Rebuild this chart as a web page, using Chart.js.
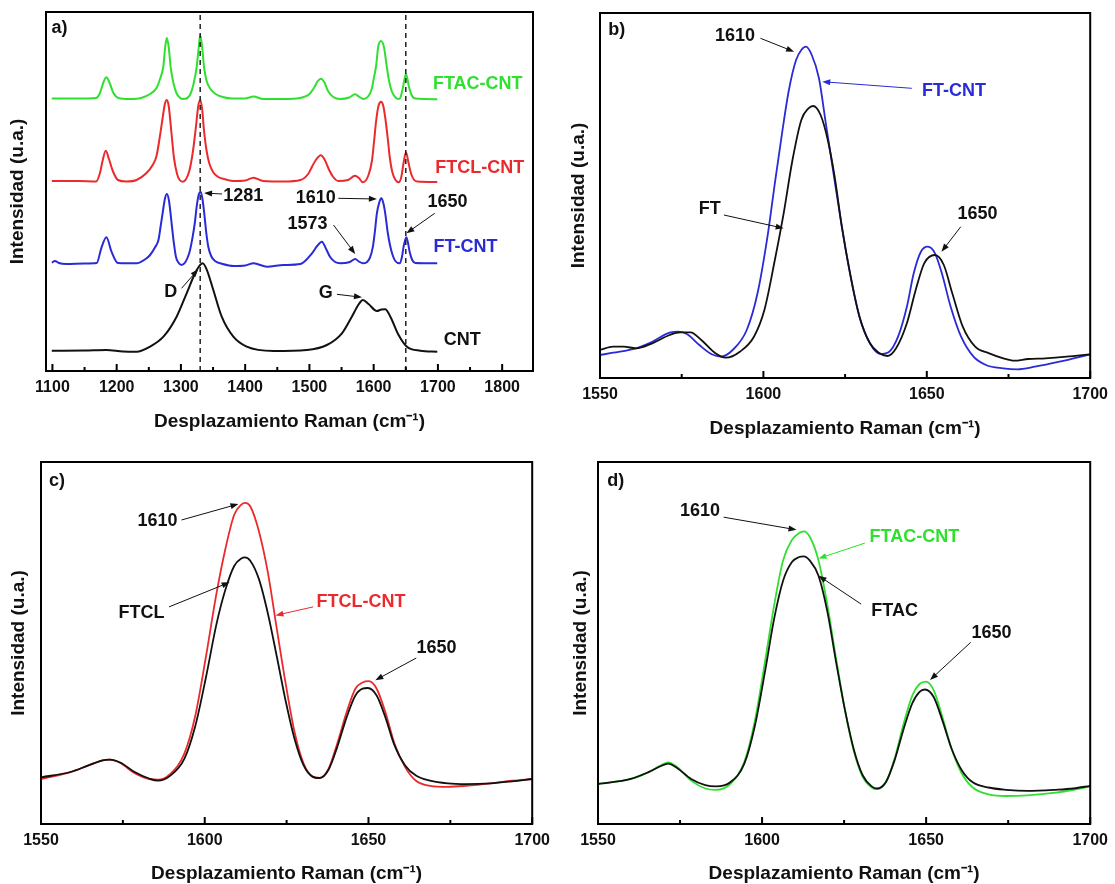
<!DOCTYPE html>
<html>
<head>
<meta charset="utf-8">
<script src="https://cdn.jsdelivr.net/npm/chart.js@4.4.1/dist/chart.umd.min.js"></script>
<style>
  body { margin: 0; background: #fff; width: 1115px; height: 884px; position: relative; overflow: hidden; }
  canvas { position: absolute; }
</style>
</head>
<body>
<canvas id="pa" width="557" height="440" style="left:0;top:0"></canvas>
<canvas id="pb" width="558" height="440" style="left:557px;top:0"></canvas>
<canvas id="pc" width="557" height="444" style="left:0;top:440px"></canvas>
<canvas id="pd" width="558" height="444" style="left:557px;top:440px"></canvas>
<script>
// ---- data (x = Raman shift cm-1, y = intensity a.u.) ----
const ticksWide = [1100, 1200, 1300, 1400, 1500, 1600, 1700, 1800];
const minorWide = [1150, 1250, 1350, 1450, 1550, 1650, 1750];
const ticksZoom = [1550, 1600, 1650, 1700];
const minorZoom = [1575, 1625, 1675];
const dashedAt = [1330, 1650];

// panel a (offset stack)
const aFtacCnt = [[1099,272.5],[1140,272.5],[1168,273],[1174,278],[1179,288],[1184,293.7],[1189,288],[1195,278],[1203,273],
  [1220,272],[1238,273],[1252,277],[1262,283],[1268,293],[1272.5,304],[1275.5,324],[1278,333],[1281,324],[1284,304],[1288,289],
  [1293,278],[1299,273],[1304,272],[1314,276],[1320,288],[1324.5,304],[1327.8,324],[1330,336],[1333,324],[1336,304],[1340,290],
  [1346,282],[1354,277],[1365,274],[1380,272.5],[1400,272.5],[1413,274.5],[1428,272],[1460,272],[1485,273],[1500,277],[1508,284],
  [1513,290],[1518,292.3],[1523,289],[1529,280],[1537,274],[1548,272],[1562,273.5],[1571,276.7],[1578,274],[1584,272],[1597,282],
  [1600,292],[1604,306],[1607,324],[1611.5,330],[1616,324],[1620.5,304],[1624,290],[1628,280],[1634,273.5],[1639,272],[1642,274],
  [1645.7,284],[1650.3,297],[1655,284],[1659,276],[1665,272.5],[1699,271.8]];
const aFtclCnt = [[1099,190],[1140,190],[1168,189.5],[1174,198],[1178,210],[1183,220.3],[1188,212],[1194,200],[1202,191],
  [1215,189.5],[1231,191],[1246,197.7],[1256,206],[1262,215],[1268,237.7],[1272,255],[1275,267],[1278,271],[1281,265],[1285,240],
  [1289,214],[1294,197],[1298,191],[1303,189.3],[1313,200],[1319,221],[1323.5,245],[1327,265],[1330,271],[1333,262],[1336,240],
  [1340,220],[1344,208],[1350,199],[1358,194],[1370,191.5],[1382,190],[1400,190.5],[1413,193.3],[1428,190],[1460,189.5],[1486,191],
  [1498,197],[1504,204.3],[1510,211],[1517.8,215.7],[1524,211],[1530,202],[1537,194],[1545,190],[1560,191],[1571,195.3],[1577,193],
  [1583,188.7],[1592,196],[1597.5,211],[1601,232],[1604,251],[1607.5,265],[1611.4,269.3],[1615,265],[1618.5,251],[1622,232],
  [1625,214],[1629,199],[1634,191],[1639,188.7],[1643,194],[1646.5,208],[1650.3,218.7],[1654,209],[1658,197.7],[1663,191],
  [1668,189.5],[1699,189]];
const aFtCnt = [[1099,108.3],[1104,110],[1110,108],[1122,107],[1150,107.5],[1169,108],[1176,122.7],[1184,133.7],[1192,119.3],
  [1202,108],[1231,107.7],[1245,112],[1252,116],[1260,124],[1265,131],[1268.5,145],[1271.5,157.7],[1275,172],[1278.2,177],
  [1281.5,170],[1285.5,147.7],[1289,128],[1292.2,114.3],[1296,108.5],[1301,106],[1313,118],[1318.3,134.3],[1322,150],[1324.5,164.3],
  [1328,177],[1330.7,179.3],[1333.5,172],[1336.3,157.7],[1339.5,138],[1342.6,124.3],[1347,115],[1353,110],[1365,107],[1382,105],
  [1400,105.5],[1413,107.7],[1434,104.3],[1460,106],[1486,107],[1504,117.7],[1512,125],[1519.4,129.3],[1526,122],[1532,114.3],
  [1540,109],[1548,107.7],[1563,109],[1571.3,112],[1577,109.5],[1583.2,107.7],[1594,113],[1598.8,124.3],[1602,140],[1605,157.7],
  [1608.5,168],[1611.8,172.7],[1615,168],[1618,157.7],[1622,138],[1626,124.3],[1630,115],[1633.7,110],[1640.4,107.7],[1644,114],
  [1646.6,124.3],[1650.8,133.7],[1653.5,128],[1656,119.3],[1660,111],[1665,108],[1699,107.7]];
const aCnt = [[1099,20.3],[1150,20.5],[1184,21],[1210,19.5],[1231,19.3],[1251.7,24.3],[1272.8,34.3],[1293.3,54.3],[1308.9,77.7],
  [1322,97.7],[1328,104.5],[1333.8,107.7],[1340,101.7],[1350.4,81],[1363.5,54.3],[1381.6,34.3],[1402.4,24.3],[1444,20],[1496,21],
  [1527.2,26],[1550.6,37.7],[1566,54.3],[1577,67],[1583.2,71],[1592,67],[1605,60],[1612,61.5],[1618,61.7],[1626,54.3],
  [1638.8,36],[1651.8,24.3],[1672.6,20.3],[1699,19.3]];

// panel b
const bFtCnt = [[1550,23],[1554,25.3],[1561,29.7],[1566,36.3],[1571.3,45.3],[1574,46.3],[1576.7,43.7],[1580.4,33],[1584.2,23.7],
  [1586.9,21.3],[1590.6,28],[1594.9,48],[1598.2,84.7],[1601.4,144.7],[1603.5,194.7],[1605.7,244.7],[1607.8,288],[1610,318],
  [1611.6,328],[1613,331.3],[1614.8,323],[1617,299.7],[1619.1,254.7],[1621.3,208],[1624,151.3],[1626.7,101.3],[1629.4,61.3],
  [1632.6,34.7],[1635.8,24],[1638.5,26.3],[1641.2,41.3],[1643.9,71.3],[1646,104.7],[1648.2,126.3],[1650.3,131.3],[1652.5,124.7],
  [1654.6,104.7],[1657.3,71.3],[1660.5,41.3],[1664.3,21.3],[1668.1,13],[1673.4,9.7],[1677.7,8.7],[1683.1,11.3],[1690.6,16.3],[1700,23.7]];
const bFt = [[1550,28],[1554,31.3],[1557.3,31.3],[1561,29.7],[1566,34.7],[1571.3,43],[1574.5,45.7],[1577.7,45.7],[1581,38],
  [1585.3,24.7],[1588.5,20.3],[1592.8,26.3],[1597.1,41.3],[1600.3,68],[1603.5,118],[1606.2,164.7],[1608.9,218],[1611.6,258],
  [1613.8,269.7],[1615.2,272],[1617.5,263],[1619.7,238],[1621.8,201.3],[1624,151.3],[1626.7,101.3],[1629.4,61.3],[1632.6,34.7],
  [1635.3,25.3],[1638,22],[1640.6,29.7],[1643.9,54.7],[1646.6,88],[1649.2,114.7],[1652.5,123],[1655.2,113],[1657.8,84.7],
  [1661,51.3],[1664.8,31.3],[1669.1,24.7],[1673.4,19.7],[1676.7,17.3],[1681,19],[1686.3,19.7],[1692.8,21.3],[1700,23.7]];

// panel c
const cFtclCnt = [[1550,45],[1559,51.8],[1564.5,58.6],[1568.8,63.7],[1571,64.4],[1574.2,61],[1578.6,50.8],[1583,45],[1585.7,44.3],
  [1589.5,50.1],[1593.8,70.6],[1597.1,108],[1600.3,166],[1603.6,230.8],[1606.3,275],[1609,309.2],[1611.2,319.4],[1612.3,321.1],
  [1613.9,317.7],[1616.6,292.1],[1619.3,251.2],[1622.1,193.3],[1624.8,138.8],[1627.5,91],[1630.2,60.3],[1632.9,47.4],[1635.1,46],
  [1637.8,55.2],[1640.5,80.8],[1643.3,111.5],[1646,135.3],[1648.2,141.5],[1650.1,142.8],[1652.5,135.3],[1655.2,111.5],
  [1657.9,80.8],[1661.2,56.9],[1664.5,43.3],[1668.8,38.2],[1674.2,37.2],[1679.7,38.2],[1687.3,40.6],[1693.8,43.3],[1700,45]];
const cFtcl = [[1550,46.7],[1559,52],[1564.5,58.6],[1568.8,63.7],[1571,64.4],[1574.2,61.5],[1578.6,52],[1583,45.5],[1585.7,43.3],
  [1589.5,48.4],[1593.8,65.4],[1597.1,97.8],[1600.3,145.5],[1603.6,200.1],[1606.3,234.2],[1609,258],[1611.2,265.6],[1612.3,266.6],
  [1613.9,263.2],[1616.6,244.4],[1619.3,210.3],[1622.1,166],[1624.8,121.7],[1627.5,84.2],[1630.2,58.6],[1632.9,47.4],[1635.1,46],
  [1637.8,54.2],[1640.5,77.4],[1643.3,106.4],[1646,128.5],[1648.2,135.3],[1649.8,136],[1652.5,128.5],[1655.2,106.4],[1657.9,79.1],
  [1661.2,58.6],[1664.5,48.4],[1668.8,43.3],[1674.2,40.6],[1679.7,39.9],[1687.3,40.6],[1693.8,42.6],[1700,45]];

// panel d
const dFtacCnt = [[1550,40],[1560,45.1],[1565.4,51.9],[1569.2,58.7],[1571.4,61.5],[1574.1,57],[1578.4,43.4],[1582.7,35.5],
  [1585.9,34.2],[1590.3,40],[1594.6,62.2],[1597.8,103.1],[1601,164.6],[1603.7,219.2],[1606.4,263.6],[1609.1,284.1],[1611.3,291],
  [1612.7,292.7],[1614.5,287.5],[1617.2,263.6],[1619.9,219.2],[1622.6,164.6],[1625.3,113.4],[1628,72.4],[1630.7,46.8],[1633.4,36.5],
  [1635,34.8],[1637.7,41.7],[1640.4,65.6],[1643.1,99.7],[1645.8,128.7],[1648,140],[1649.9,142.4],[1652.3,133.9],[1655,106.5],
  [1657.7,75.8],[1660.9,50.2],[1664.2,36.5],[1669,29.7],[1674.4,28],[1680.9,28.7],[1689.5,31.4],[1694.9,34.2],[1700,37.6]];
const dFtac = [[1550,40],[1560,45.1],[1565.4,51.9],[1569.2,58],[1571.4,60.4],[1574.1,56],[1578.4,45.1],[1582.7,38.9],[1585.9,37.6],
  [1590.3,41.7],[1594.6,60.4],[1597.8,98],[1601,154.4],[1603.7,205.6],[1606.4,243.2],[1609.1,261.9],[1611.3,267],[1612.7,267.7],
  [1614.5,263.6],[1617.2,248.3],[1619.9,212.4],[1622.6,161.2],[1625.3,113.4],[1628,74.1],[1630.7,48.5],[1633.4,37.6],[1635,35.5],
  [1637.7,41.7],[1640.4,63.9],[1643.1,94.6],[1645.8,120.9],[1648,132.2],[1649.6,134.5],[1652.3,127],[1655,103.1],[1657.7,75.8],
  [1660.9,53.6],[1664.2,41.7],[1669,36.5],[1674.4,34.2],[1680.9,33.1],[1689.5,34.2],[1694.9,35.5],[1700,38.2]];

const GREEN = '#2fe02f', RED = '#ea2a2d', BLUE = '#2a2ad6', BLACK = '#111';

// annotations: [text, x, y, colour]
const aLabels = [['a)',1111,343,BLACK],['FTAC-CNT',1762,286.5,GREEN],['FTCL-CNT',1765,203,RED],['FT-CNT',1743,123.5,BLUE],
  ['CNT',1738,31,BLACK],['1281',1397,175,BLACK],['1610',1510,172.7,BLACK],['1650',1715,169.3,BLACK],['1573',1497,147,BLACK],
  ['D',1284,79.3,BLACK],['G',1525.6,78.3,BLACK]];
const aArrows = [[1364,177,1336,178,BLACK],[1545,172.7,1605,172,BLACK],[1695,157.7,1651,137.7,BLACK],
  [1537.5,146,1571.3,117,BLACK],[1301,82.7,1327,101.7,BLACK],[1542.8,76.7,1581.8,73.7,BLACK]];
const bLabels = [['b)',1555.1,348,BLACK],['1610',1591.3,342.2,BLACK],['FT-CNT',1658.3,287.2,BLUE],['FT',1583.6,169,BLACK],['1650',1665.5,164,BLACK]];
const bArrows = [[1599.1,339.7,1609.4,326.3,BLACK],[1645.4,289.7,1618,296.3,BLUE],[1587.9,163,1606.2,149.7,BLACK],[1660.4,151.3,1654.5,126.3,BLACK]];
const cLabels = [['c)',1554.9,342.6,BLACK],['1610',1585.6,303.4,BLACK],['FTCL',1580.7,211.3,BLACK],['FTCL-CNT',1647.7,221.5,RED],['1650',1670.8,175.5,BLACK]];
const cArrows = [[1592.9,304,1610.3,320,BLACK],[1589.1,217.1,1607.6,241.7,BLACK],[1633.1,217.1,1621.6,208.6,RED],[1664.6,166,1652.1,143.8,BLACK]];
const dLabels = [['d)',1555.4,343.2,BLACK],['1610',1581.1,312.5,BLACK],['FTAC-CNT',1646.4,287.2,GREEN],['FTAC',1640.4,212.6,BLACK],['1650',1669.9,191.2,BLACK]];
const dArrows = [[1588.3,306.8,1610.5,294.2,BLACK],[1631.3,280.9,1617.2,265.5,GREEN],[1630.2,219.9,1617.2,248.3,BLACK],[1663.6,181.7,1651.2,144.1,BLACK]];

Chart.defaults.font.family = '"Liberation Sans", Arial, sans-serif';
Chart.defaults.color = BLACK;

const pts = arr => arr.map(p => ({x: p[0], y: p[1]}));

// draws the closed frame, inward ticks, arrows and labels
const decor = {
  id: 'decor',
  afterDatasetsDraw(chart, args, o) {
    const {ctx, chartArea: ca, scales: {x, y}} = chart;
    ctx.save();
    ctx.strokeStyle = '#000';
    ctx.lineWidth = 2;
    const tick = (v, len) => {
      const px = x.getPixelForValue(v);
      ctx.beginPath(); ctx.moveTo(px, ca.bottom); ctx.lineTo(px, ca.bottom - len); ctx.stroke();
    };
    o.major.forEach(v => tick(v, 7));
    o.minor.forEach(v => tick(v, 4));
    ctx.strokeRect(ca.left, ca.top, ca.width, ca.height);

    o.arrows.forEach(a => {
      const x1 = x.getPixelForValue(a[0]), y1 = y.getPixelForValue(a[1]);
      const x2 = x.getPixelForValue(a[2]), y2 = y.getPixelForValue(a[3]);
      const ang = Math.atan2(y2 - y1, x2 - x1);
      ctx.strokeStyle = a[4]; ctx.fillStyle = a[4]; ctx.lineWidth = 1;
      ctx.beginPath(); ctx.moveTo(x1, y1); ctx.lineTo(x2 - 6 * Math.cos(ang), y2 - 6 * Math.sin(ang)); ctx.stroke();
      ctx.beginPath();
      ctx.moveTo(x2, y2);
      ctx.lineTo(x2 - 8 * Math.cos(ang) + 3 * Math.sin(ang), y2 - 8 * Math.sin(ang) - 3 * Math.cos(ang));
      ctx.lineTo(x2 - 8 * Math.cos(ang) - 3 * Math.sin(ang), y2 - 8 * Math.sin(ang) + 3 * Math.cos(ang));
      ctx.closePath(); ctx.fill();
    });

    ctx.font = 'bold 18px "Liberation Sans", Arial, sans-serif';
    ctx.textAlign = 'center';
    ctx.textBaseline = 'middle';
    o.labels.forEach(l => {
      ctx.fillStyle = l[3];
      ctx.fillText(l[0], x.getPixelForValue(l[1]), y.getPixelForValue(l[2]));
    });
    ctx.restore();
  }
};

function line(data, color, width) {
  return {data: pts(data), borderColor: color, borderWidth: width, pointRadius: 0,
    cubicInterpolationMode: 'monotone', fill: false};
}

function panel(id, g, datasets, deco) {
  new Chart(document.getElementById(id), {
    type: 'line',
    data: {datasets},
    options: {
      responsive: false,
      animation: false,
      events: [],
      layout: {padding: {left: 0, top: g.top, right: g.right, bottom: 0}},
      plugins: {legend: {display: false}, tooltip: {enabled: false}, decor: deco},
      scales: {
        x: {
          type: 'linear', min: g.xmin, max: g.xmax,
          afterBuildTicks: s => { s.ticks = deco.major.map(v => ({value: v})); },
          afterFit: s => { s.height = g.bottomH; },
          grid: {display: false, drawTicks: false},
          border: {display: false},
          ticks: {padding: 7, autoSkip: false, maxRotation: 0, font: {size: 16, weight: 'bold'}, color: BLACK,
            callback: v => String(v)},
          title: {display: true, text: 'Desplazamiento Raman (cm⁻¹)', color: BLACK,
            font: {size: 19, weight: 'bold', lineHeight: 1}, padding: {top: 0, bottom: g.xTitle}}
        },
        y: {
          min: 0, max: g.ymax,
          afterFit: s => { s.width = g.leftW; },
          grid: {display: false, drawTicks: false},
          border: {display: false},
          ticks: {display: false},
          title: {display: true, text: 'Intensidad (u.a.)', color: BLACK,
            font: {size: 19, weight: 'bold', lineHeight: 1}, padding: {top: g.yTitle, bottom: 0}}
        }
      }
    },
    plugins: [decor]
  });
}

const dashed = dashedAt.map(v => ({data: [{x: v, y: 0}, {x: v, y: 359}], borderColor: '#222', borderWidth: 1.5,
  borderDash: [5, 4], pointRadius: 0, fill: false}));

panel('pa', {top: 12, right: 24, leftW: 46, bottomH: 69, xmin: 1090, xmax: 1848, ymax: 359, yTitle: 8.5, xTitle: 8.8},
  [...dashed, line(aFtacCnt, GREEN, 2), line(aFtclCnt, RED, 2), line(aFtCnt, BLUE, 2), line(aCnt, BLACK, 2)],
  {major: ticksWide, minor: minorWide, labels: aLabels, arrows: aArrows});

panel('pb', {top: 13, right: 21, leftW: 43, bottomH: 62, xmin: 1550, xmax: 1700, ymax: 365, yTitle: 12, xTitle: 1.5},
  [line(bFt, BLACK, 1.8), line(bFtCnt, BLUE, 1.8)],
  {major: ticksZoom, minor: minorZoom, labels: bLabels, arrows: bArrows});

panel('pc', {top: 22, right: 24, leftW: 41, bottomH: 60, xmin: 1550, xmax: 1700, ymax: 362, yTitle: 9, xTitle: 1},
  [line(cFtcl, BLACK, 1.8), line(cFtclCnt, RED, 1.8)],
  {major: ticksZoom, minor: minorZoom, labels: cLabels, arrows: cArrows});

panel('pd', {top: 22, right: 22, leftW: 41, bottomH: 60, xmin: 1550, xmax: 1700, ymax: 362, yTitle: 14, xTitle: 1},
  [line(dFtac, BLACK, 1.8), line(dFtacCnt, GREEN, 1.8)],
  {major: ticksZoom, minor: minorZoom, labels: dLabels, arrows: dArrows});
</script>
</body>
</html>
